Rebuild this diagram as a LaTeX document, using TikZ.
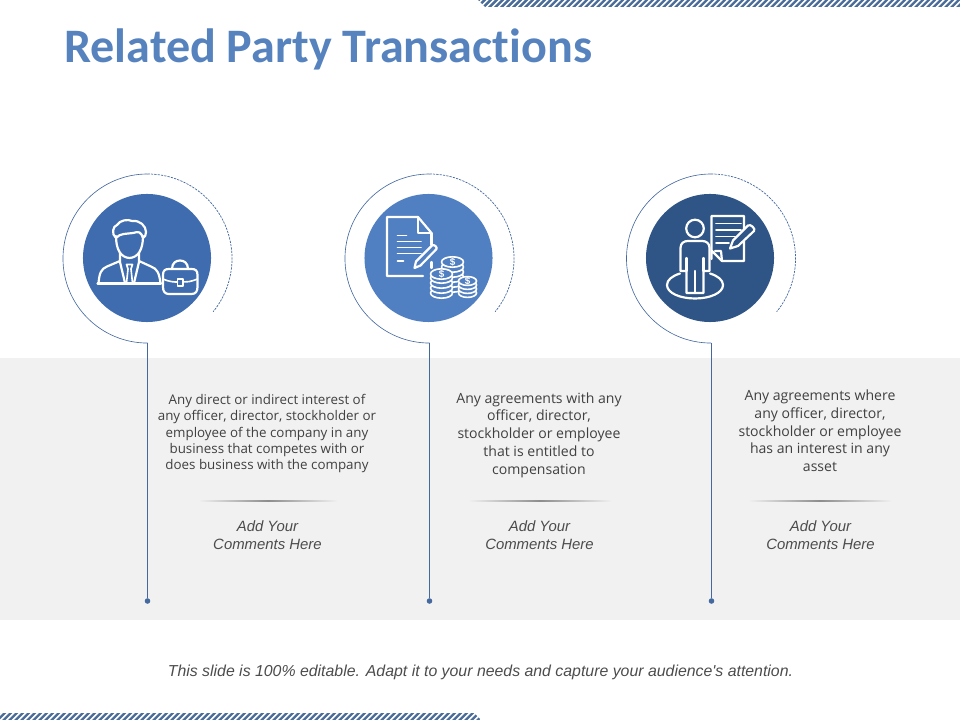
\documentclass[tikz,border=0pt]{standalone}
\usepackage{fontspec}
\setmainfont{Open Sans}
\newfontfamily\titlefont[Ligatures=NoCommon]{Carlito}
\newfontfamily\notefont{Liberation Sans}
\usetikzlibrary{calc,positioning}
\definecolor{bandgray}{HTML}{F1F1F1}
\definecolor{titleblue}{HTML}{5682BE}
\definecolor{badgeone}{HTML}{3F6CAF}
\definecolor{badgetwo}{HTML}{5180C2}
\definecolor{badgethree}{HTML}{2F5587}
\definecolor{ringblue}{HTML}{44699F}
\definecolor{stripeblue}{HTML}{4A6C98}
\tikzset{
		badge/.style={circle, inner sep=0pt, minimum size=3.2cm},
		ringsolid/.style={draw=ringblue, line width=0.45pt},
		ringdash/.style={draw=ringblue, line width=0.5pt, dash pattern=on 1.6pt off 0.8pt},
		stem/.style={draw=ringblue, line width=0.75pt},
		enddot/.style={circle, fill=ringblue, inner sep=0pt, minimum size=0.14cm},
		icon/.style={draw=white, line width=1.55pt, line join=round, line cap=round},
		thinicon/.style={draw=white, line width=1.15pt, line join=round, line cap=round},
		smalltext/.style={text=black!75, align=center, font=\fontsize{9.5}{11.4}\selectfont},
		bigtext/.style={text=black!75, align=center, font=\fontsize{10}{12.6}\selectfont},
		addtext/.style={text=black!70, align=center, font=\notefont\itshape\fontsize{10.6}{12.8}\selectfont},
		cointext/.style={inner sep=0pt, text=white, font=\notefont\bfseries\fontsize{7}{7}\selectfont}
	}

\begin{document}
\begin{tikzpicture}[x=0.025cm,y=-0.025cm]
              \useasboundingbox (0,0) rectangle (960,720);

              % the gray band and the striped bars
              \fill[bandgray] (0,358) rectangle (960,620);
              \begin{scope}
                \clip (478,0) -- (960,0) -- (960,7) -- (485,7) -- cycle;
                \foreach \s in {470,476,...,965}
                  \fill[stripeblue] (\s,7) -- (\s+3.3,7) -- (\s+10.3,0) -- (\s+7,0) -- cycle;
              \end{scope}
              \begin{scope}
                \clip (0,713) -- (474,713) -- (481,720) -- (0,720) -- cycle;
                \foreach \s in {-10,-4,...,485}
                  \fill[stripeblue] (\s,720) -- (\s+3.3,720) -- (\s+10.3,713) -- (\s+7,713) -- cycle;
              \end{scope}

              % the title and the footer
              \node[anchor=west, inner sep=0pt, text=titleblue, font=\titlefont\bfseries\fontsize{34.2}{40}\selectfont] (title) at (64,49.5) {Related Party Transactions};
              \node[text=black!70, font=\notefont\itshape\fontsize{11.28}{14}\selectfont] (footer) at (480.5,672) {This slide is 100\% editable. Adapt it to your needs and capture your audience's attention.};

              % the badges
              \node[badge, fill=badgeone] (b1) at (147,258) {};
              \node[badge, fill=badgetwo] (b2) at (428.5,258) {};
              \node[badge, fill=badgethree] (b3) at (710,258) {};

              % the rings, half solid and half dashed
              \draw[ringsolid] (147.5,174) arc[start angle=90, end angle=270, radius=2.1125cm];
              \draw[ringdash] (147.5,174) arc[start angle=90, end angle=-39, radius=2.1125cm];
              \draw[ringsolid] (429.5,174) arc[start angle=90, end angle=270, radius=2.1125cm];
              \draw[ringdash] (429.5,174) arc[start angle=90, end angle=-39, radius=2.1125cm];
              \draw[ringsolid] (711,174) arc[start angle=90, end angle=270, radius=2.1125cm];
              \draw[ringdash] (711,174) arc[start angle=90, end angle=-39, radius=2.1125cm];

              % the stems with the dots at their ends
              \coordinate (r1) at (147.5,343);
              \coordinate (r2) at (429.5,343);
              \coordinate (r3) at (711.5,343);
              \node[enddot] (d1) at (147.5,601) {};
              \node[enddot] (d2) at (429.5,601) {};
              \node[enddot] (d3) at (711.5,601) {};
              \draw[stem] (r1) -- (d1);
              \draw[stem] (r2) -- (d2);
              \draw[stem] (r3) -- (d3);

              % the first icon: man with a briefcase
              \draw[icon] (97.5,283.5) -- (161,283.5);
              \draw[icon] (98.5,283) .. controls (99.5,273) and (101,269) .. (107,266.5) -- (120,261);
              \draw[icon] (160.5,283) .. controls (159,273) and (157.5,269) .. (151,266.5) -- (139,261);
              \draw[icon] (120,253) -- (120,262) -- (125,283);
              \draw[icon] (139,253) -- (139,262) -- (134,283);
              \draw[thinicon] (126.5,264.5) -- (132.5,264.5) -- (131,269) -- (132.5,283) -- (126.5,283) -- (128,269) -- cycle;
              \draw[icon] (116,236) .. controls (116,250) and (121,257.5) .. (129.5,258) .. controls (138,257.5) and (143,250) .. (143,236);
              \draw[icon] (116,238) .. controls (111,234) and (113,226) .. (117,225) .. controls (120,220) and (128,219) .. (132,221) .. controls (140,220) and (146,226) .. (146,232) .. controls (146,235) and (145,237) .. (143,238) .. controls (141,232) and (139,231) .. (133,233) .. controls (127,234) and (120,233) .. (116,238);
              \draw[icon, fill=badgeone] (163,275) .. controls (163,270.5) and (165,269) .. (169,269) -- (191.5,269) .. controls (195.5,269) and (197.5,270.5) .. (197.5,275) -- (197.5,287) .. controls (197.5,291.5) and (195.5,294) .. (191.5,294) -- (169,294) .. controls (165,294) and (163,291.5) .. (163,287) -- cycle;
              \draw[icon] (172,269) .. controls (172,263) and (176,260.5) .. (180,260.5) .. controls (184,260.5) and (188,263) .. (188,269);
              \draw[thinicon] (163,279) .. controls (170,282) and (174,282) .. (177.5,282);
              \draw[thinicon] (197.5,279) .. controls (190,282) and (187,282) .. (183,282);
              \draw[thinicon] (177.5,279) rectangle (183,286);

              % the second icon: document, pen and coins
              \draw[icon] (431.5,233) -- (418,217) -- (387,217) -- (387,276) -- (423,276);
              \draw[icon] (418,217) -- (418,233) -- (431.5,233) -- (431.5,245);
              \draw[icon] (431.5,262) -- (431.5,268);
              \draw[thinicon] (397.5,235.5) -- (406.5,235.5);
              \draw[thinicon] (397.5,241.5) -- (421,241.5);
              \draw[thinicon] (397.5,247.5) -- (421,247.5);
              \draw[thinicon] (397.5,253.5) -- (421,253.5);
              \draw[thinicon] (397.5,261) -- (403.5,261);
              \draw[icon] (414.5,268) -- (416,261.5) -- (432,245.5) .. controls (434,244) and (437.5,247) .. (436.5,249) -- (420.5,265.5) -- cycle;
              \foreach \y in {287,282,277,272,267,262}
                \draw[thinicon, fill=badgetwo] (452.5,\y) ellipse [x radius=11, y radius=5.2];
              \foreach \y in {293,288,283,278,274}
                \draw[thinicon, fill=badgetwo] (441.5,\y) ellipse [x radius=11, y radius=5.2];
              \foreach \y in {293,289,285,281}
                \draw[thinicon, fill=badgetwo] (467.5,\y) ellipse [x radius=9, y radius=4.4];
              \node[cointext] (coin1) at (452.5,262) {\$};
              \node[cointext] (coin2) at (441.5,274) {\$};
              \node[cointext] (coin3) at (467.5,281) {\$};

              % the third icon: person on a disc with a note
              \draw[icon] (711.5,259) -- (711.5,216) -- (744,216) -- (744,261) -- (722,261) -- (712,251);
              \draw[icon] (715,251) -- (721,251) -- (722,261);
              \draw[thinicon] (716,223.5) -- (741,223.5);
              \draw[thinicon] (716,230) -- (741,230);
              \draw[thinicon] (716,236.5) -- (735,236.5);
              \draw[thinicon] (716,243) -- (729,243);
              \draw[icon, fill=badgethree] (730,248.5) -- (733,240.5) -- (748,225.5) .. controls (750.5,223.5) and (756,229) .. (754,231) -- (738,246) -- cycle;
              \draw[icon] (680,273.5) .. controls (672,276) and (667,280) .. (667,285) .. controls (667,293) and (680,298.5) .. (695,298.5) .. controls (710,298.5) and (723,293) .. (723,285) .. controls (723,280) and (718,276) .. (710,273.5);
              \draw[icon] (695,228.5) ellipse [x radius=8.8, y radius=8.8];
              \draw[icon, fill=badgethree] (680.5,271) -- (680.5,248) .. controls (680.5,243) and (684,241) .. (688,241) -- (702,241) .. controls (706,241) and (709.5,243) .. (709.5,248) -- (709.5,271) -- (703.5,271) -- (703.5,293) -- (686.5,293) -- (686.5,271) -- cycle;
              \draw[icon] (695,271) -- (695,293);
              \draw[icon] (686.5,258) -- (686.5,271);
              \draw[icon] (703.5,258) -- (703.5,271);

              % the texts of the columns
              \node[smalltext] (t1) at (267,433.5) {Any direct or indirect interest of\\any officer, director, stockholder or\\employee of the company in any\\business that competes with or\\does business with the company};
              \node[bigtext] (t2) at (539,435) {Any agreements with any\\officer, director,\\stockholder or employee\\that is entitled to\\compensation};
              \node[bigtext] (t3) at (820,431) {Any agreements where\\any officer, director,\\stockholder or employee\\has an interest in any\\asset};

              % the short rules under the texts
              \shade[left color=bandgray, right color=bandgray, middle color=black!45] (198,500.8) rectangle (338,501.5);
              \shade[left color=bandgray, right color=bandgray, middle color=black!45] (468,500.8) rectangle (612,501.5);
              \shade[left color=bandgray, right color=bandgray, middle color=black!45] (748,500.8) rectangle (892,501.5);

              % the comments
              \node[addtext] (c1) at (267.5,535) {Add Your\\Comments Here};
              \node[addtext] (c2) at (539.5,535) {Add Your\\Comments Here};
              \node[addtext] (c3) at (820.5,535) {Add Your\\Comments Here};

          \end{tikzpicture}
\end{document}
